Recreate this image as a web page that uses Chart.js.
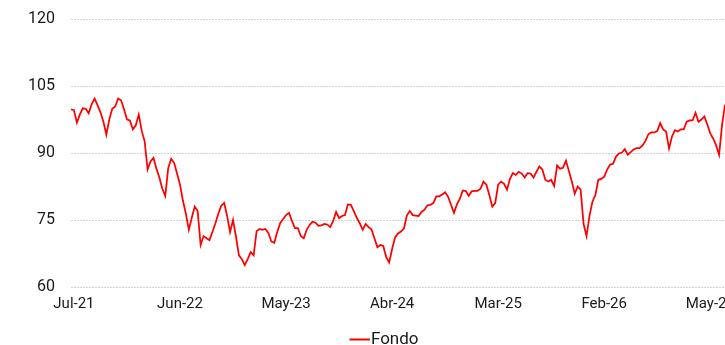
<!DOCTYPE html>
<html>
<head>
<meta charset="utf-8">
<script src="https://cdn.jsdelivr.net/npm/chart.js@4.4.1/dist/chart.umd.min.js"></script>
<style>
  html, body { margin: 0; padding: 0; background: #ffffff; overflow: hidden; }
  #wrap { position: relative; width: 725px; height: 345px; }
</style>
</head>
<body>
<div id="wrap"><canvas id="chartFondo"></canvas></div>
<script>
// Evolución del fondo (base 100)
const fondo = [
  99.8, 99.6, 96.8, 98.6, 100.0, 99.9, 98.9, 100.9, 102.2, 100.7,
  99.1, 97.0, 94.1, 97.5, 99.9, 100.4, 102.2, 101.8, 99.8, 97.5,
  97.3, 95.3, 96.2, 98.6, 95.0, 92.6, 86.3, 88.1, 88.9, 86.5,
  84.5, 82.0, 80.4, 86.6, 88.7, 87.8, 85.4, 82.9, 79.3, 76.4,
  72.8, 75.5, 78.0, 77.0, 69.4, 71.4, 70.9, 70.5, 72.3, 74.2,
  76.4, 78.2, 78.8, 75.9, 72.3, 75.0, 71.3, 67.1, 66.2, 64.9,
  66.3, 67.8, 67.1, 72.5, 73.0, 72.8, 73.0, 72.1, 70.2, 69.9,
  72.3, 74.3, 75.2, 76.1, 76.6, 74.8, 73.2, 73.2, 71.4, 70.9,
  72.8, 73.9, 74.6, 74.4, 73.7, 73.8, 74.1, 74.0, 73.4, 74.8,
  76.8, 75.4, 75.9, 76.1, 78.5, 78.4, 77.0, 75.5, 74.3, 72.8,
  74.1, 73.4, 72.9, 70.9, 68.9, 69.4, 69.2, 66.7, 65.5, 68.5,
  71.1, 72.0, 72.4, 73.1, 76.0, 77.0, 76.1, 76.0, 75.9, 76.8,
  77.3, 78.3, 78.4, 78.8, 80.3, 80.3, 80.7, 81.2, 80.2, 78.4,
  76.6, 78.5, 79.8, 81.6, 81.5, 80.4, 81.4, 81.5, 81.5, 82.0,
  83.6, 82.9, 80.6, 78.0, 78.8, 82.9, 83.6, 83.1, 81.8, 84.2,
  85.5, 85.1, 85.8, 85.4, 84.5, 85.5, 85.4, 84.5, 85.8, 87.0,
  86.3, 84.0, 83.6, 84.0, 82.6, 87.2, 86.5, 86.7, 88.3, 86.0,
  83.6, 80.9, 82.5, 81.8, 74.1, 71.4, 75.9, 79.1, 80.6, 84.0,
  84.2, 84.7, 86.3, 87.4, 87.6, 89.2, 89.9, 90.1, 90.9, 89.6,
  90.2, 90.8, 91.1, 91.1, 91.7, 92.7, 94.2, 94.6, 94.6, 94.9,
  96.7, 95.3, 94.8, 91.0, 93.7, 95.1, 94.8, 95.3, 95.3, 97.0,
  97.3, 97.3, 99.0, 97.0, 97.5, 98.2, 96.4, 94.4, 93.2, 91.7,
  89.6, 96.3, 100.8
];

// Etiquetas del eje X: una cada 36 observaciones, empezando en la segunda
const tickLabels = ["Jul-21", "Jun-22", "May-23", "Abr-24", "Mar-25", "Feb-26", "May-27"];
const tickStart = 1;
const tickStep = 36;

const yTicks = [60, 75, 90, 105, 120];

const labels = fondo.map((v, i) => {
  const k = (i - tickStart) / tickStep;
  return Number.isInteger(k) && k >= 0 && k < tickLabels.length ? tickLabels[k] : "";
});

const textColor = "#1a1a1a";
const red = "#ff0000";

// muestra de la leyenda: línea roja pegada al texto
const legendLine = document.createElement("canvas");
legendLine.width = 72;
legendLine.height = 4;
const lctx = legendLine.getContext("2d");
lctx.strokeStyle = red;
lctx.lineWidth = 2;
lctx.beginPath();
lctx.moveTo(51, 2);
lctx.lineTo(72, 2);
lctx.stroke();

const ctx = document.getElementById("chartFondo").getContext("2d");
const chart = new Chart(ctx, {
  type: "line",
  data: {
    labels: labels,
    datasets: [
      {
        label: "Fondo",
        data: fondo,
        borderColor: red,
        backgroundColor: red,
        borderWidth: 1.75,
        pointRadius: 0,
        pointHoverRadius: 0,
        tension: 0,
        pointStyle: legendLine,
      },
    ],
  },
  options: {
    responsive: true,
    maintainAspectRatio: false,
    animation: false,
    layout: {
      // la leyenda queda pegada al borde inferior
      padding: { top: 19, right: 0, bottom: -13, left: 0 },
    },
    plugins: {
      tooltip: { enabled: false },
      legend: {
        display: true,
        position: "bottom",
        labels: {
          usePointStyle: true,
          pointStyleWidth: 56,
          color: textColor,
          padding: 10,
          font: { family: "Roboto", size: 17 },
        },
      },
    },
    scales: {
      x: {
        afterFit: (scale) => {
          // la serie llega hasta el borde derecho, la última etiqueta se corta
          scale.paddingRight = 0;
        },
        grid: { display: false, drawTicks: false },
        border: { display: false },
        ticks: {
          autoSkip: false,
          maxRotation: 0,
          minRotation: 0,
          padding: 8,
          color: textColor,
          font: { family: "Roboto", size: 15 },
        },
      },
      y: {
        min: 60,
        max: 120,
        afterFit: (scale) => {
          scale.width = 71;
          scale.paddingTop = 0;
          scale.paddingBottom = 0;
        },
        afterBuildTicks: (scale) => {
          scale.ticks = yTicks.map((v) => ({ value: v }));
        },
        grid: {
          color: "#d2d2d2",
          lineWidth: 1,
          drawTicks: false,
        },
        border: { display: false, dash: [2, 1] },
        ticks: {
          padding: 16,
          color: textColor,
          font: { family: "Roboto", size: 16 },
        },
      },
    },
  },
});
</script>
</body>
</html>
